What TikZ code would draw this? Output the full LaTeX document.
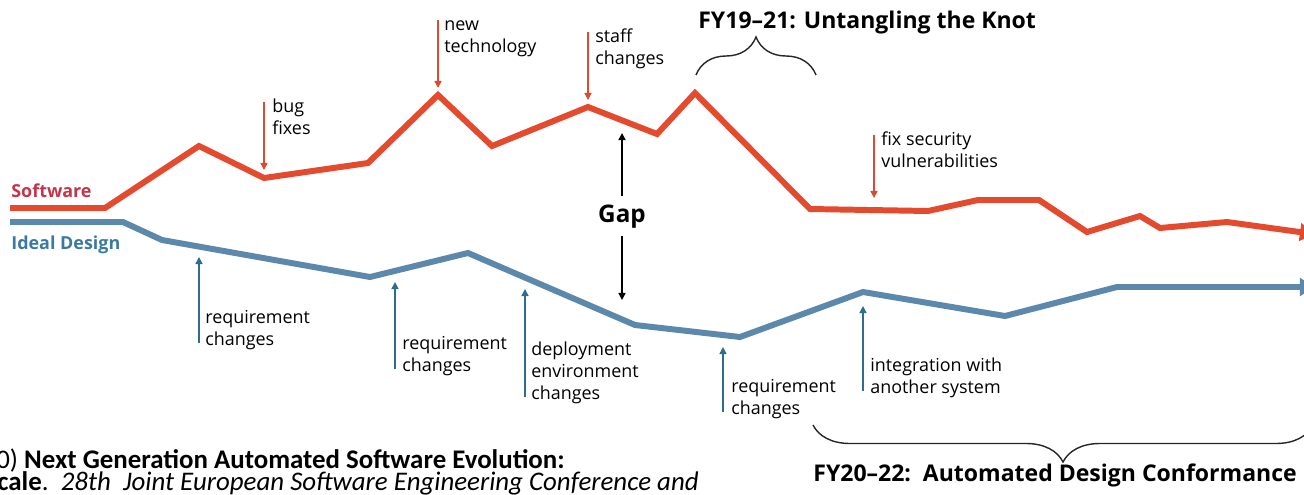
\documentclass[tikz,border=0pt]{standalone}
\usepackage{fontspec}
\setmainfont{Open Sans}
\newfontfamily\citefont{Carlito}
\usepackage{xcolor}
\usetikzlibrary{arrows.meta, decorations.pathreplacing}

\definecolor{softred}{RGB}{228,74,45}
\definecolor{softtext}{RGB}{196,52,74}
\definecolor{idealblue}{RGB}{92,136,172}
\definecolor{idealtext}{RGB}{58,122,160}
\definecolor{annred}{RGB}{218,75,50}
\definecolor{annblue}{RGB}{45,110,140}

\begin{document}
\begin{tikzpicture}[x=0.02cm, y=-0.02cm,
	softline/.style={line width=3.4pt, color=softred, -{Triangle[length=8pt,width=10pt]}},
	idealline/.style={line width=3.4pt, color=idealblue, -{Triangle[length=8pt,width=10pt]}},
	redarrow/.style={draw=annred, line width=0.8pt, -{Triangle[length=4pt,width=4pt]}, shorten <=0.1cm},
	bluearrow/.style={draw=annblue, line width=0.8pt, -{Triangle[length=4pt,width=4pt]}, shorten <=0.14cm},
	gaparrow/.style={draw=black, line width=0.8pt, -{Triangle[length=4pt,width=4pt]}},
	note/.style={anchor=north west, inner sep=0pt, align=left, font=\fontsize{10.2}{12.5}\selectfont},
	series/.style={anchor=base west, inner sep=0pt, font=\fontsize{10.2}{12.5}\selectfont\bfseries},
	period/.style={anchor=base west, inner sep=0pt, font=\fontsize{13.1}{16}\selectfont\bfseries},
	brace/.style={draw=black!85, line width=0.8pt, decorate, decoration={brace, amplitude=#1}},
	cite/.style={anchor=base west, inner sep=0pt, font=\fontsize{15.3}{18}\selectfont\citefont}
]
	\useasboundingbox (0,0) rectangle (1304,494);

	% the two curves
	\draw[softline] (10,208) -- (105,208) -- (199,146) -- (264,178) -- (368,163) -- (438,95) -- (492,146) -- (588,107) -- (657,134) -- (695,93) -- (810,209) -- (928,211) -- (978,200) -- (1039,200) -- (1087,232) -- (1140,216) -- (1160,228) -- (1227,222) -- (1314,234);
	\draw[idealline] (10,222) -- (123,222) -- (162,240) -- (370,277) -- (468,253) -- (635,325) -- (740,337) -- (863,292) -- (1005,316) -- (1117,287) -- (1314,287);

	\node[series, text=softtext] (software) at (11,197) {Software};
	\node[series, text=idealtext] (ideal) at (11,249) {Ideal Design};

	% what pushes the software
	\node[note] (bugs) at (272,97) {\strut bug\\fixes};
	\node[note] (tech) at (444,15) {\strut new\\technology};
	\node[note] (staff) at (595,27) {\strut staff\\changes};
	\node[note] (security) at (881,130) {\strut fix security\\vulnerabilities};

	\coordinate (bugstip) at (264,170);
	\coordinate (techtip) at (438,88);
	\coordinate (stafftip) at (588,100);
	\coordinate (securitytip) at (874,198);

	\draw[redarrow] (bugs.north west -| bugstip) -- (bugstip);
	\draw[redarrow] (tech.north west -| techtip) -- (techtip);
	\draw[redarrow] (staff.north west -| stafftip) -- (stafftip);
	\draw[redarrow] (security.north west -| securitytip) -- (securitytip);

	% what pushes the design
	\node[note] (reqA) at (205,308) {\strut requirement\\changes};
	\node[note] (reqB) at (402,334) {\strut requirement\\changes};
	\node[note] (deploy) at (531,340) {\strut deployment\\environment\\changes};
	\node[note] (reqC) at (731,377) {\strut requirement\\changes};
	\node[note] (integ) at (870,356) {\strut integration with\\another system};

	\coordinate (reqAtip) at (199,257);
	\coordinate (reqBtip) at (395,282);
	\coordinate (deploytip) at (525,289);
	\coordinate (reqCtip) at (723,347);
	\coordinate (integtip) at (863,306);

	\draw[bluearrow] (reqA.south west -| reqAtip) -- (reqAtip);
	\draw[bluearrow] (reqB.south west -| reqBtip) -- (reqBtip);
	\draw[bluearrow] (deploy.south west -| deploytip) -- (deploytip);
	\draw[bluearrow] (reqC.south west -| reqCtip) -- (reqCtip);
	\draw[bluearrow] (integ.south west -| integtip) -- (integtip);

	% gap
	\node[anchor=base, inner sep=4.5pt, font=\fontsize{13.8}{16}\selectfont\bfseries] (gap) at (622,222) {Gap};
	\coordinate (gaptop) at (622,133);
	\coordinate (gapbot) at (622,300);
	\draw[gaparrow] (gap.north) -- (gaptop);
	\draw[gaparrow] (gap.south) -- (gapbot);

	% periods
	\draw[brace=0.76cm] (696,75) -- (816,75);
	\node[period] (knot) at (698,28) {FY19–21: Untangling the Knot};
	\draw[brace=0.74cm] (1313,425) -- (813,425);
	\node[period] (conform) at (813,481) {FY20–22:\ \ Automated Design Conformance};

	% citation, cut at the edge
	\node[cite] (citeA) at (-4,468) {0) \textbf{Next Generation Automated Software Evolution:}};
	\node[cite] (citeB) at (-3,490) {\textbf{cale}.\ \ \textit{28th\ \ Joint European Software Engineering Conference and}};
\end{tikzpicture}
\end{document}
